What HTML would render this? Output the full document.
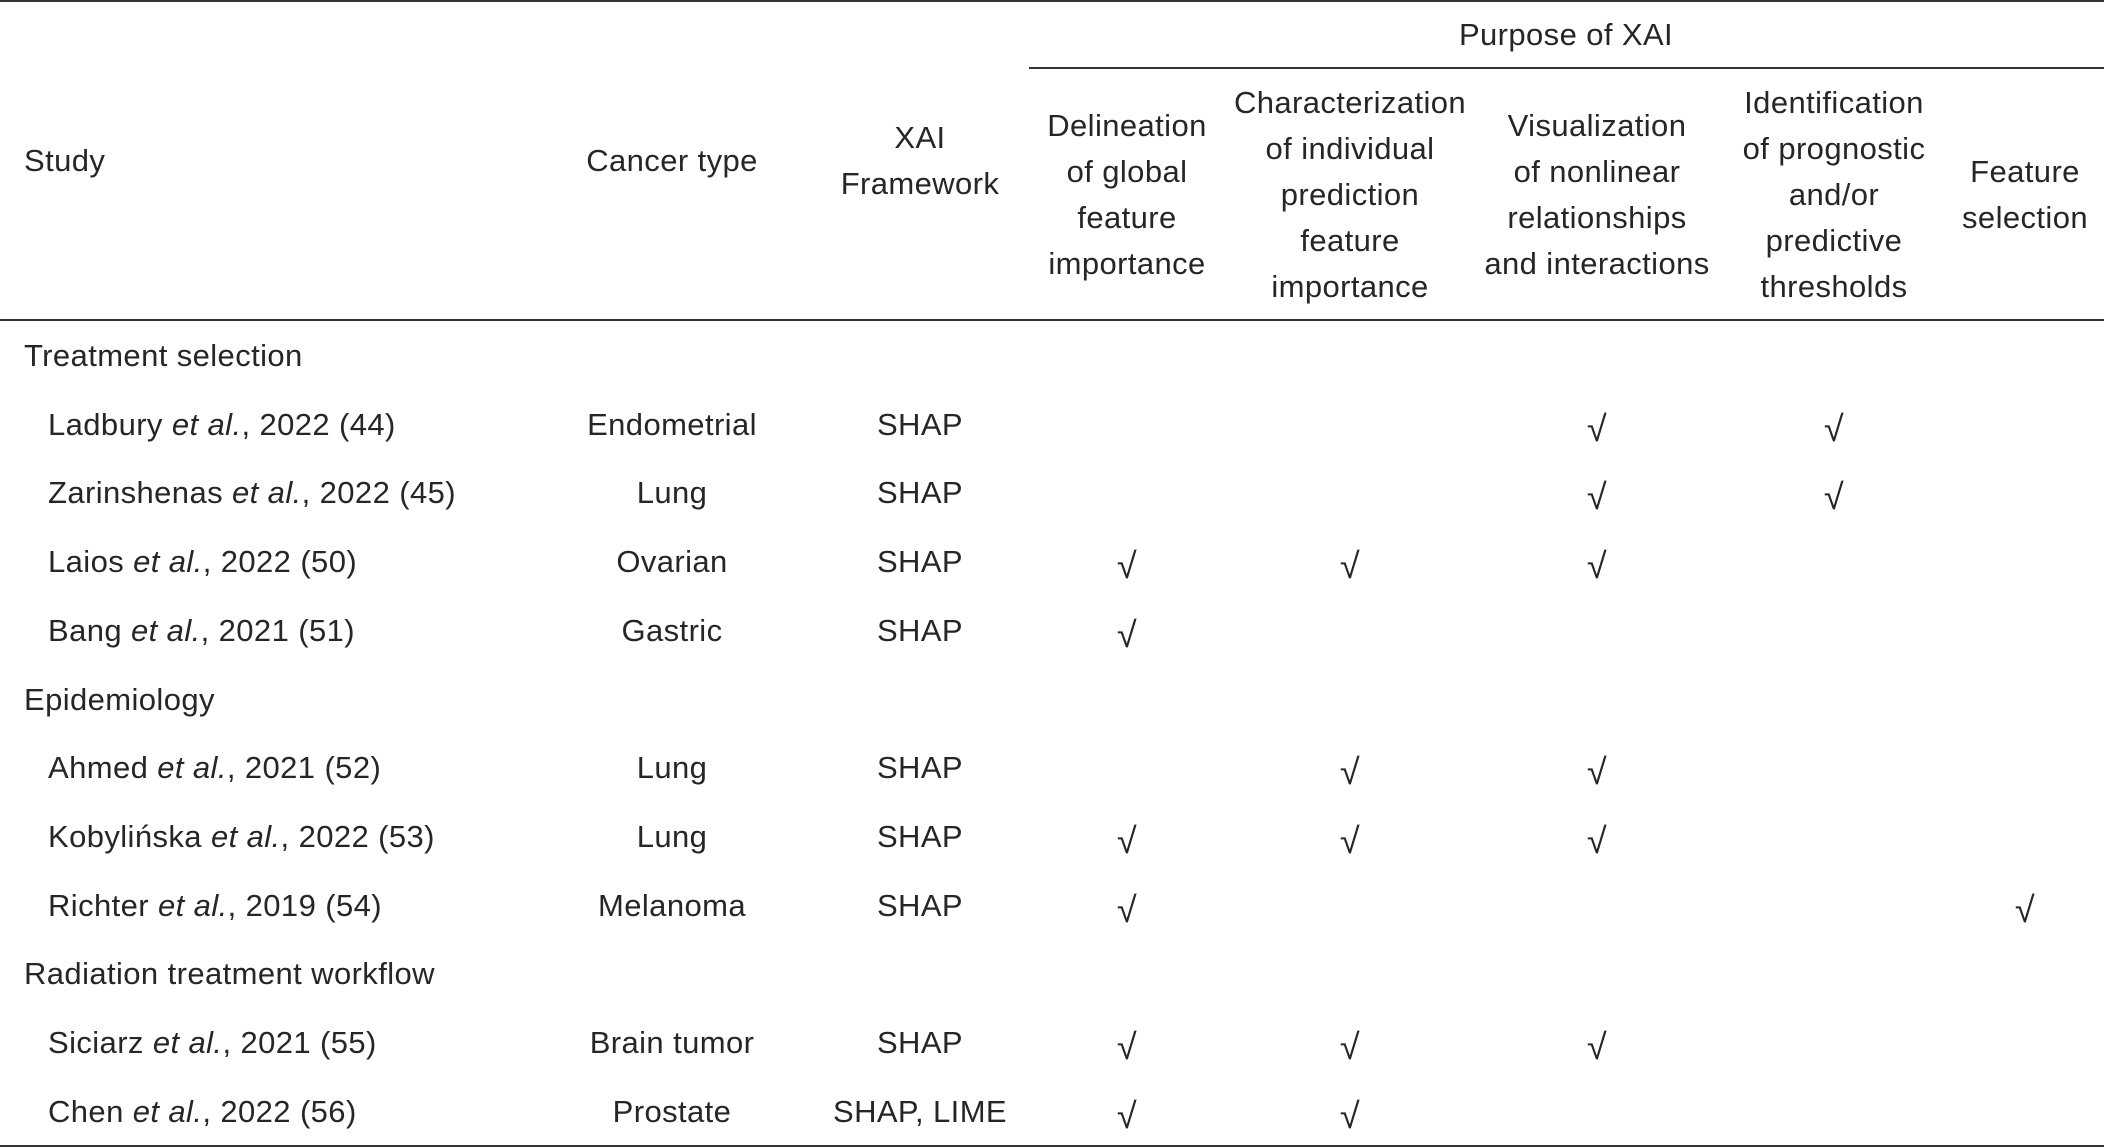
<!DOCTYPE html>
<html><head><meta charset="utf-8"><style>
html,body{margin:0;padding:0;background:#fff}
#t{position:relative;width:2104px;height:1148px;overflow:hidden;font-family:"Liberation Sans",Arial,sans-serif;font-size:31px;color:#262626;letter-spacing:0.4px}
.l{position:absolute;height:2px;background:#333}
.c{position:absolute;transform:translate(-50%,-50%);white-space:nowrap;text-align:center;line-height:46px}
.s{position:absolute;transform:translateY(-50%);white-space:nowrap}
.k{font-size:36px}
</style></head><body>
<div id="t">
<div class="l" style="top:0;left:0;width:2104px"></div>
<div class="l" style="top:67px;left:1029px;width:1075px"></div>
<div class="l" style="top:319px;left:0;width:2104px"></div>
<div class="l" style="top:1145px;left:0;width:2104px"></div>
<div class="c" style="left:1566px;top:35px">Purpose of XAI</div>
<div class="s" style="left:24px;top:161px">Study</div>
<div class="c" style="left:672px;top:161px">Cancer type</div>
<div class="c" style="left:920px;top:161px">XAI<br>Framework</div>
<div class="c" style="left:1127px;top:195px">Delineation<br>of global<br>feature<br>importance</div>
<div class="c" style="left:1350px;top:195px">Characterization<br>of individual<br>prediction<br>feature<br>importance</div>
<div class="c" style="left:1597px;top:195px">Visualization<br>of nonlinear<br>relationships<br>and interactions</div>
<div class="c" style="left:1834px;top:195px">Identification<br>of prognostic<br>and/or<br>predictive<br>thresholds</div>
<div class="c" style="left:2025px;top:195px">Feature<br>selection</div>
</div>
<script>
const rows=[
 ["g","Treatment selection"],
 ["r","Ladbury","2022 (44)","Endometrial","SHAP",[0,0,1,1,0]],
 ["r","Zarinshenas","2022 (45)","Lung","SHAP",[0,0,1,1,0]],
 ["r","Laios","2022 (50)","Ovarian","SHAP",[1,1,1,0,0]],
 ["r","Bang","2021 (51)","Gastric","SHAP",[1,0,0,0,0]],
 ["g","Epidemiology"],
 ["r","Ahmed","2021 (52)","Lung","SHAP",[0,1,1,0,0]],
 ["r","Kobylińska","2022 (53)","Lung","SHAP",[1,1,1,0,0]],
 ["r","Richter","2019 (54)","Melanoma","SHAP",[1,0,0,0,1]],
 ["g","Radiation treatment workflow"],
 ["r","Siciarz","2021 (55)","Brain tumor","SHAP",[1,1,1,0,0]],
 ["r","Chen","2022 (56)","Prostate","SHAP, LIME",[1,1,0,0,0]]
];
const colX=[1127,1350,1597,1834,2025];
const host=document.getElementById('t');
rows.forEach((r,i)=>{
 const y=356+i*68.7;
 if(r[0]==="g"){
  const d=document.createElement('div');d.className='s';d.style.left='24px';d.style.top=y+'px';d.textContent=r[1];
  
  
  host.appendChild(d);return;
 }
 const s=document.createElement('div');s.className='s';s.style.left='48px';s.style.top=y+'px';
 s.innerHTML=r[1]+' <i>et al.</i>, '+r[2];
 
 
 host.appendChild(s);
 const c=document.createElement('div');c.className='c';c.style.left='672px';c.style.top=y+'px';c.textContent=r[3];
 
 
 host.appendChild(c);
 const f=document.createElement('div');f.className='c';f.style.left='920px';f.style.top=y+'px';f.textContent=r[4];
 
 
 host.appendChild(f);
 r[5].forEach((v,j)=>{if(!v)return;
  const k=document.createElement('div');k.className='c k';k.style.left=colX[j]+'px';k.style.top=(y+4)+'px';k.textContent='√';
  
  
  host.appendChild(k);});
});
</script>
</body></html>
